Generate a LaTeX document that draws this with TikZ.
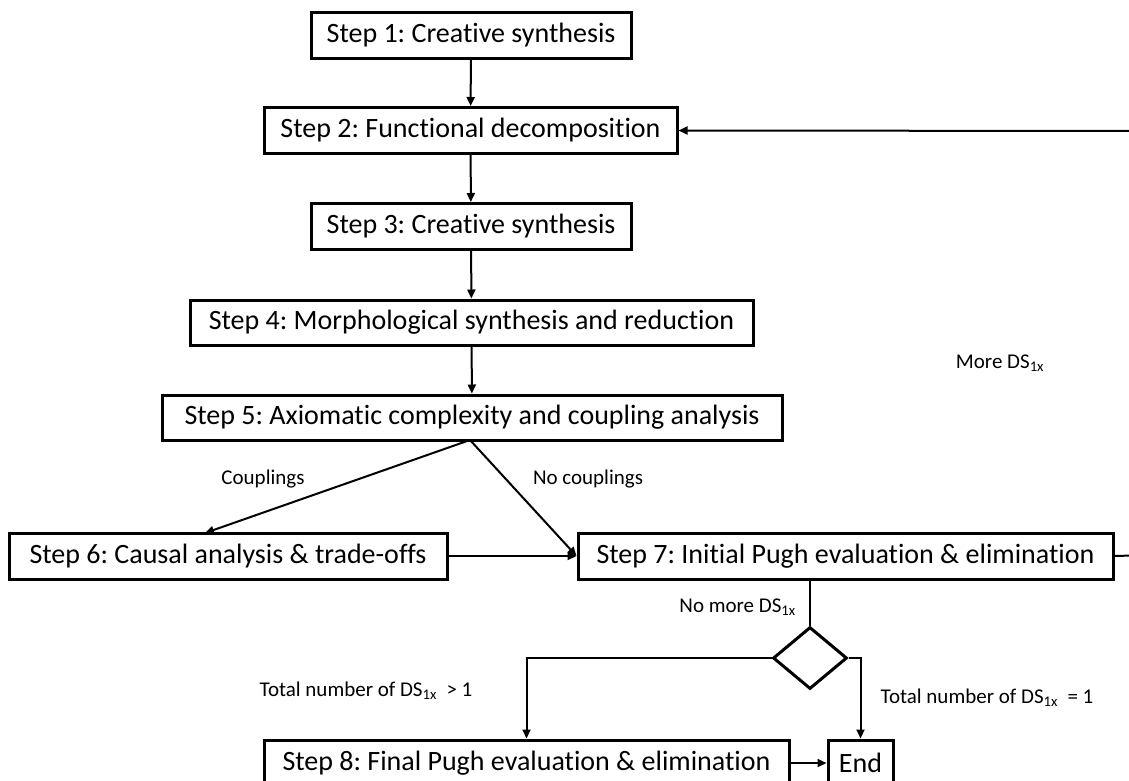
\documentclass[tikz,border=0pt]{standalone}
\usepackage{fontspec}
\setmainfont{Carlito}[RawFeature=-liga]
\usetikzlibrary{arrows.meta,shapes.geometric}
\frenchspacing

\begin{document}
\begin{tikzpicture}[x=1pt,y=-1pt,
  stepbox/.style={draw, line width=3pt, minimum height=46pt, inner sep=0pt,
                  font=\fontsize{28}{32}\selectfont},
  decision/.style={draw, diamond, line width=3pt, inner sep=0pt,
                   minimum width=74pt, minimum height=62pt},
  lbl/.style={font=\fontsize{21}{24}\selectfont, inner sep=0pt},
  flow/.style={line width=2pt, -{Triangle[length=9pt,width=8pt]}},
  link/.style={line width=2.5pt}
]
\useasboundingbox (0,0) rectangle (1129,780);
\clip (0,0) rectangle (1129,780);

% process steps
\node[stepbox, minimum width=320pt] (s1) at (471,35)    {Step 1: Creative synthesis};
\node[stepbox, minimum width=413pt] (s2) at (470.5,130.5) {Step 2: Functional decomposition};
\node[stepbox, minimum width=320pt] (s3) at (471,226.5) {Step 3: Creative synthesis};
\node[stepbox, minimum width=563pt, minimum height=45pt] (s4) at (471.5,322.5) {Step 4: Morphological synthesis and reduction};
\node[stepbox, minimum width=620pt, minimum height=45pt] (s5) at (472,417.5) {Step 5: Axiomatic complexity and coupling analysis};
\node[stepbox, minimum width=438pt] (s6) at (228,556)   {Step 6: Causal analysis \& trade-offs};
\node[stepbox, minimum width=535pt] (s7) at (845.5,556) {Step 7: Initial Pugh evaluation \& elimination};
\node[decision] (dec) at (810,658) {};
\node[stepbox, minimum width=525pt] (s8) at (526.5,763) {Step 8: Final Pugh evaluation \& elimination};
\node[stepbox, minimum width=65pt] (end) at (860.5,763) {End};

% helper points
\coordinate (split) at (470,440);
\coordinate (loopR) at (1150,555);
\coordinate (loopT) at (1150,131);

% main chain
\draw[flow] (s1) -- (s2);
\draw[flow] (s2) -- (s3);
\draw[flow] (s3) -- (s4);
\draw[flow] (s4) -- (s5);

% coupling branches
\draw[flow] (split) -- (205,533);
\draw[flow] (split) -- (s7.west);
\draw[flow] (s6) -- (s7);

% loop back for more design solutions
\draw[flow] (s7.east) -- (loopR) -- (loopT) -- (s2.east);

% decision
\draw[link] (s7.south -| dec.north) -- (dec.north);
\draw[flow] (dec.west) -| (s8.north);
\draw[flow] (dec.east) -| (end.north);
\draw[flow] (s8) -- (end);

% labels
\node[lbl] (lc)  at (263,479) {Couplings};
\node[lbl] (lnc) at (588,479) {No couplings};
\node[lbl] (lm)  at (1000,363) {More DS\textsubscript{1x}};
\node[lbl, anchor=east] (lnm) at (796,607) {No more DS\textsubscript{1x}};
\node[lbl] (lg)  at (366,691) {Total number of DS\textsubscript{1x}~ > 1};
\node[lbl] (le)  at (987,698) {Total number of DS\textsubscript{1x}~ = 1};
\end{tikzpicture}
\end{document}
